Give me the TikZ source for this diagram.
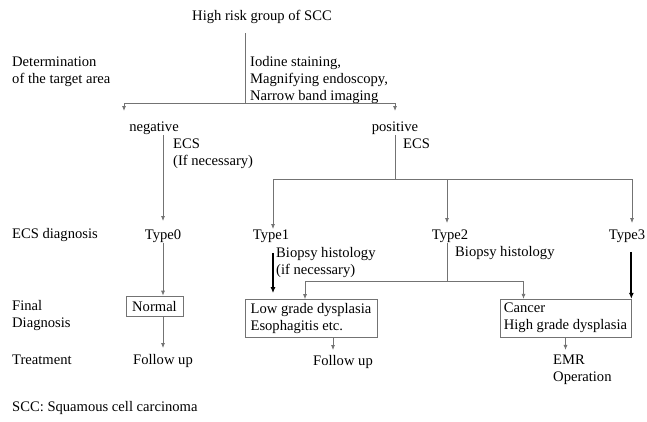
\documentclass[tikz,border=0pt]{standalone}
\usepackage{fontspec}
\setmainfont{Liberation Serif}
\usetikzlibrary{arrows.meta,positioning}
\definecolor{linegray}{gray}{0.45}

\begin{document}
\begin{tikzpicture}[x=1pt,y=-1pt,
		txt/.style={font=\fontsize{14.6}{17}\selectfont,inner sep=0pt,text height=10pt,text depth=3.5pt},
		multi/.style={font=\fontsize{14.6}{17}\selectfont,inner sep=0pt,align=left,anchor=west},
		box/.style={draw=linegray,font=\fontsize{14.6}{17}\selectfont,align=left,inner xsep=4pt,inner ysep=4pt},
		line/.style={draw=linegray,line width=0.8pt},
		arr/.style={line,-{Latex[length=5pt,width=4pt]}},
		bold arr/.style={draw=black,line width=1.8pt,-{Latex[length=6pt,width=5pt]}},
	]
	\useasboundingbox (0,0) rectangle (647,421);

	% row labels
	\node[multi] (lDet) at (12,71.5) {Determination\\of the target area};
	\node[txt,anchor=west] (lEcs) at (12,235) {ECS diagnosis};
	\node[multi] (lFinal) at (12,316) {Final\\Diagnosis};
	\node[txt,anchor=west] (lTreat) at (12,361) {Treatment};
	\node[txt,anchor=west] (lScc) at (12,408) {SCC: Squamous cell carcinoma};

	% main flow
	\node[txt] (risk) at (262,17) {High risk group of SCC};
	\node[multi] (methods) at (250,80) {Iodine staining,\\Magnifying endoscopy,\\Narrow band imaging};
	\node[txt] (neg) at (154,128) {negative};
	\node[txt] (pos) at (395,128) {positive};
	\node[multi] (ecsNeg) at (173,154) {ECS\\(If necessary)};
	\node[txt,anchor=west] (ecsPos) at (403,145) {ECS};

	\node[txt] (type0) at (163,236) {Type0};
	\node[txt] (type1) at (271,236) {Type1};
	\node[txt] (type2) at (450,236) {Type2};
	\node[txt] (type3) at (627,236) {Type3};
	\node[multi] (bio1) at (276,262.5) {Biopsy histology\\(if necessary)};
	\node[txt,anchor=west] (bio2) at (455,253) {Biopsy histology};

	\node[box,inner xsep=6pt,inner ysep=5pt] (normal) at (154.5,306) {Normal};
	\node[box,inner xsep=5.5pt] (low) at (311,318.5) {Low grade dysplasia\\Esophagitis etc.};
	\node[box] (cancer) at (565.5,318) {Cancer\\High grade dysplasia};

	\node[txt] (fu0) at (163,361) {Follow up};
	\node[txt] (fu1) at (343,362) {Follow up};
	\node[multi] (emr) at (553,370) {EMR\\Operation};

	% connectors
	\coordinate (trunk) at (245,33);
	\coordinate (split) at (245,103);
	\coordinate (negTip) at (124,111);
	\coordinate (posTip) at (395,111);
	\coordinate (posFork) at (395,179);
	\coordinate (bioFork) at (447,281);

	\draw[line] (trunk) -- (split);
	\draw[arr] (split) -| (negTip);
	\draw[arr] (split) -| (posTip);

	\draw[arr,shorten >=8pt] (neg.south -| type0) -- (type0.north);
	\draw[arr] (type0.south) -- (type0 |- normal.north);
	\draw[arr,shorten >=6pt] (type0 |- normal.south) -- (fu0.north);

	\draw[line] (pos.south) -- (posFork);
	\draw[arr] (posFork) -| ([xshift=2pt]type1.north);
	\draw[arr,shorten >=6pt] (posFork) -| ([xshift=-3pt]type2.north);
	\draw[arr,shorten >=6pt] (posFork) -| ([xshift=5pt]type3.north);

	\draw[bold arr,shorten <=10pt,shorten >=6pt] ([xshift=2pt]type1.south) -- ([xshift=2pt]type1.south |- low.north);
	\draw[line] ([xshift=-3pt]type2.south) -- (bioFork);
	\draw[arr] (bioFork) -| ([xshift=-6pt]low.north);
	\draw[arr] (bioFork) -| ([xshift=-42pt]cancer.north);
	\draw[bold arr,shorten <=9pt] (type3.south -| cancer.north east) -- (cancer.north east);

	\draw[arr,shorten >=5pt] ([xshift=22pt]low.south) -- ([xshift=22pt]low.south |- fu1.north);
	\draw[arr,shorten >=5pt] (cancer.south) -- (cancer.south |- emr.north);
\end{tikzpicture}
\end{document}
